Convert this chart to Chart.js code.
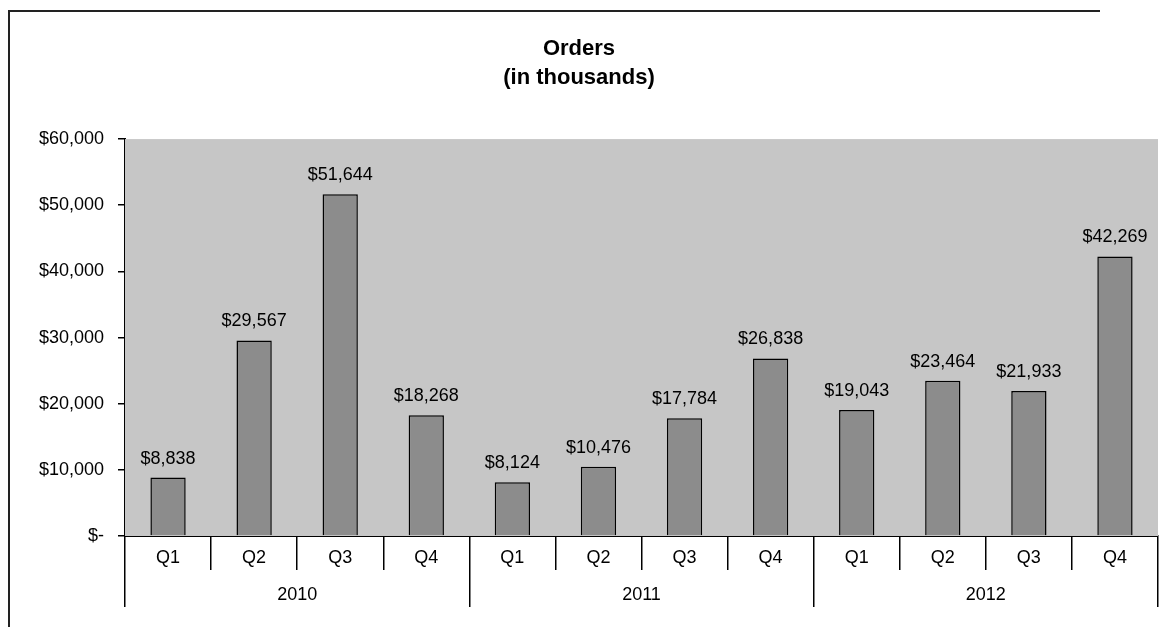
<!DOCTYPE html>
<html>
<head>
<meta charset="utf-8">
<script src="https://cdn.jsdelivr.net/npm/chart.js@4/dist/chart.umd.min.js"></script>
<style>
  html, body { margin: 0; padding: 0; background: #fff; }
  #frame {
    position: absolute; left: 8px; top: 10px; width: 1090px; height: 640px;
    border-left: 2px solid #222; border-top: 2px solid #222;
  }
  #wrap { position: absolute; left: 0; top: 0; width: 1169px; height: 627px; }
</style>
</head>
<body>
<div id="frame"></div>
<div id="wrap"><canvas id="chart"></canvas></div>
<script>
// 資料
const quarters = ['Q1', 'Q2', 'Q3', 'Q4', 'Q1', 'Q2', 'Q3', 'Q4', 'Q1', 'Q2', 'Q3', 'Q4'];
const years = ['2010', '2011', '2012'];
const orders = [8838, 29567, 51644, 18268, 8124, 10476, 17784, 26838, 19043, 23464, 21933, 42269];
const titleLines = ['Orders', '(in thousands)'];

const FONT = '"Liberation Sans", Arial, sans-serif';

function money(v) {
  if (v === 0) return '$-';
  return '$' + Number(v).toLocaleString('en-US');
}

// 繪圖區背景
const plotBgPlugin = {
  id: 'plotBg',
  beforeDatasetsDraw(chart) {
    const { ctx, chartArea: a } = chart;
    ctx.save();
    ctx.fillStyle = '#c6c6c6';
    ctx.fillRect(a.left, a.top, a.right - a.left, a.bottom - a.top);
    ctx.restore();
  }
};

// 柱狀數值標籤
const barLabelPlugin = {
  id: 'barLabels',
  afterDatasetsDraw(chart) {
    const ctx = chart.ctx;
    const meta = chart.getDatasetMeta(0);
    ctx.save();
    ctx.fillStyle = '#000';
    ctx.font = '18px ' + FONT;
    ctx.textAlign = 'center';
    ctx.textBaseline = 'middle';
    meta.data.forEach((bar, i) => {
      ctx.fillText(money(orders[i]), bar.x, bar.y - 19);
    });
    ctx.restore();
  }
};

new Chart(document.getElementById('chart'), {
  type: 'bar',
  data: {
    labels: quarters,
    datasets: [{
      label: 'Orders',
      data: orders,
      backgroundColor: '#8c8c8c',
      borderColor: '#000',
      borderWidth: 1.5,
      barPercentage: 0.41,
      categoryPercentage: 1,
      xAxisID: 'x'
    }]
  },
  options: {
    responsive: true,
    maintainAspectRatio: false,
    animation: false,
    layout: { padding: { left: 0, right: 11, top: 0, bottom: 20 } },
    plugins: {
      legend: { display: false },
      tooltip: { enabled: false },
      title: {
        display: true,
        text: titleLines,
        color: '#000',
        font: { family: FONT, size: 22, weight: 'bold', lineHeight: 1.32 },
        padding: { top: 34, bottom: 47 }
      }
    },
    scales: {
      x: {
        type: 'category',
        position: 'bottom',
        offset: true,
        border: { display: true, color: '#000', width: 2 },
        grid: { offset: true, drawOnChartArea: false, drawTicks: true, tickLength: 34, color: '#000', lineWidth: 1.5 },
        ticks: { color: '#000', font: { family: FONT, size: 18 }, padding: -23, autoSkip: false, maxRotation: 0 },
        afterFit: s => { s.height = 34; }
      },
      xYear: {
        type: 'category',
        labels: years,
        position: 'bottom',
        offset: true,
        border: { display: false },
        grid: { offset: true, drawOnChartArea: false, drawTicks: true, tickLength: 37, color: '#000', lineWidth: 1.5 },
        ticks: { color: '#000', font: { family: FONT, size: 18 }, padding: -23, autoSkip: false, maxRotation: 0 },
        afterFit: s => { s.height = 37; }
      },
      y: {
        min: 0,
        max: 60000,
        border: { display: true, color: '#000', width: 2 },
        grid: { drawOnChartArea: false, drawTicks: true, tickLength: 7, color: '#000', lineWidth: 1.5 },
        ticks: { stepSize: 10000, color: '#000', font: { family: FONT, size: 18 }, padding: 14, callback: v => money(v) },
        afterFit: s => { s.width = 125; }
      }
    }
  },
  plugins: [plotBgPlugin, barLabelPlugin]
});
</script>
</body>
</html>
